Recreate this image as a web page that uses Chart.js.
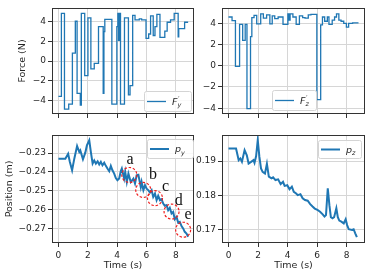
<!DOCTYPE html>
<html>
<head>
<meta charset="utf-8">
<script src="https://cdn.jsdelivr.net/npm/chart.js@4.4.1/dist/chart.umd.min.js"></script>
<style>
html, body { margin: 0; padding: 0; background: #fff; }
#wrap { position: relative; width: 373px; height: 276px; overflow: hidden; }
canvas { position: absolute; }
</style>
</head>
<body>
<div id="wrap">
  <canvas id="fyChart" width="200" height="125" style="left:0;top:0;width:200px;height:125px"></canvas>
  <canvas id="fzChart" width="185" height="125" style="left:188px;top:0;width:185px;height:125px"></canvas>
  <canvas id="pyChart" width="200" height="151" style="left:0;top:125px;width:200px;height:151px"></canvas>
  <canvas id="pzChart" width="185" height="151" style="left:188px;top:125px;width:185px;height:151px"></canvas>
</div>
<script>
// tick labels
const timeTicks = [0, 2, 4, 6, 8];
const forceTicks = [-4, -2, 0, 2, 4];
const pyTicks = [-0.27, -0.26, -0.25, -0.24, -0.23];
const pzTicks = [0.17, 0.18, 0.19];

// force y (step, value holds until next time)
const fyTime = [0, 0.2, 0.41, 0.7, 0.95, 1.15, 1.27, 1.49, 1.56, 1.79, 2.01, 2.21, 2.44, 2.73, 3.05, 3.1, 3.16, 3.64,
    3.98, 4.05, 4.1, 4.15, 4.23, 4.5, 4.77, 4.88, 5.06, 5.22, 5.51, 5.67, 5.97, 6.15, 6.28, 6.46, 6.58, 6.71, 6.92,
    7.25, 7.41, 7.64, 7.89, 8.16, 8.2, 8.6, 8.84];
const fyForce = [-3.6, 4.85, -4.9, -4.4, 0.8, 4.05, -3.3, -4.5, 4.85, -1.5, 4.4, -0.8, -0.25, 3.5, -3.3, 3.0, 4.25, -4.4,
    3.5, 4.85, 2.1, 4.85, -4.4, 4.4, -3.45, -2.5, 4.65, 4.2, 4.3, 4.2, 2.3, 2.75, 4.6, 2.6, 3.5, 4.75, 2.4,
    3.05, 3.95, 4.2, 4.85, 2.45, 3.3, 3.95, 3.95];

// force z
const fzTime = [0, 0.24, 0.47, 0.75, 0.96, 1.13, 1.25, 1.49, 1.58, 1.73, 1.91, 2.18, 2.36, 2.58, 2.8, 2.96, 3.13, 3.36,
    3.69, 4.02, 4.1, 4.17, 4.36, 4.58, 4.8, 5.02, 5.18, 5.4, 5.58, 5.98, 6.24, 6.36, 6.51, 6.69, 6.8, 7.02, 7.18,
    7.31, 7.47, 7.62, 7.8, 7.98, 8.13, 8.4, 8.8];
const fzForce = [4.6, 4.25, -0.05, 3.9, 2.4, 3.9, -4.05, 2.75, 4.55, 4.75, 3.95, 4.9, 4.5, 4.8, 3.95, 4.7, 4.45, 4.6,
    3.9, 4.9, 4.3, 4.9, 4.6, 3.9, 4.7, 4.55, 4.5, 4.8, 4.85, -3.2, 3.85, 4.6, 4.2, 4.6, 3.9, 4.3, 4.6,
    4.9, 4.3, 4.2, 4.0, 3.65, 4.0, 4.05, 4.05];

// position y
const pyTime = [0, 0.47, 0.66, 0.77, 0.93, 1.08, 1.27, 1.42, 1.49, 1.67, 1.83, 1.94, 2.1, 2.21, 2.33, 2.44, 2.55, 2.67,
    2.78, 2.89, 3.0, 3.12, 3.23, 3.34, 3.46, 3.57, 3.68, 3.8, 3.91, 4.02, 4.14, 4.25, 4.32, 4.48, 4.55, 4.66, 4.77,
    4.93, 5.11, 5.22, 5.33, 5.45, 5.61, 5.67, 5.79, 5.9, 6.01, 6.12, 6.24, 6.35, 6.46, 6.58, 6.69, 6.8, 6.92,
    7.03, 7.14, 7.25, 7.37, 7.48, 7.59, 7.71, 7.82, 7.93, 8.05, 8.16, 8.27, 8.39, 8.5, 8.61, 8.73, 8.84];
const pyPos = [-0.2330, -0.2330, -0.2304, -0.2345, -0.2391, -0.2330, -0.2263, -0.2295, -0.2286, -0.2333, -0.2298,
    -0.2260, -0.2233, -0.2295, -0.2356, -0.2339, -0.2356, -0.2344, -0.2361, -0.2347, -0.2365, -0.2351, -0.2368,
    -0.2382, -0.2396, -0.2368, -0.2391, -0.2409, -0.2432, -0.2444, -0.2435, -0.2395, -0.2382, -0.2435, -0.2400,
    -0.2453, -0.2409, -0.2453, -0.2435, -0.2461, -0.2418, -0.2415, -0.2479, -0.2453, -0.2496, -0.2470, -0.2488,
    -0.2496, -0.2509, -0.2496, -0.2532, -0.2514, -0.2549, -0.2526, -0.2549, -0.2544, -0.2567, -0.2579, -0.2575,
    -0.2602, -0.2589, -0.2619, -0.2611, -0.2649, -0.2637, -0.2667, -0.2663, -0.2686, -0.2698, -0.2716, -0.2725,
    -0.2742];

// position z
const pzTime = [0, 0.51, 0.69, 0.8, 0.91, 1.09, 1.24, 1.36, 1.53, 1.69, 1.76, 1.87, 1.98, 2.09, 2.2, 2.31, 2.47, 2.6,
    2.73, 2.91, 3.02, 3.18, 3.36, 3.53, 3.69, 3.8, 3.98, 4.13, 4.29, 4.42, 4.58, 4.69, 4.87, 5.02, 5.18, 5.36, 5.53,
    5.69, 5.84, 6.02, 6.2, 6.36, 6.5, 6.6, 6.72, 6.83, 6.93, 7.04, 7.15, 7.3, 7.4, 7.5, 7.64, 7.8, 7.93, 8.03,
    8.14, 8.36, 8.47, 8.58, 8.69];
const pzPos = [0.1937, 0.1937, 0.1903, 0.1908, 0.1898, 0.1932, 0.1917, 0.1893, 0.1898, 0.1903, 0.1895, 0.1915,
    0.1961, 0.1913, 0.1879, 0.1869, 0.1864, 0.1892, 0.1855, 0.1850, 0.1853, 0.1845, 0.1847, 0.1833, 0.1840,
    0.1828, 0.1830, 0.1818, 0.1826, 0.1811, 0.1806, 0.1801, 0.1804, 0.1792, 0.1787, 0.1785, 0.1775, 0.1768,
    0.1762, 0.1758, 0.1753, 0.1746, 0.1739, 0.1743, 0.1821, 0.1772, 0.1737, 0.1734, 0.1737, 0.1763, 0.1737,
    0.1727, 0.1724, 0.1719, 0.1731, 0.1714, 0.1702, 0.1700, 0.1702, 0.1690, 0.1679];

// annotated events on p_y
const eventLabels = ['a', 'b', 'c', 'd', 'e'];
const eventTime = [4.83, 5.78, 6.58, 7.71, 8.5];
const eventPos = [-0.2416, -0.2495, -0.2538, -0.2609, -0.2705];
const eventLabelTime = [4.88, 6.44, 7.3, 8.2, 8.83];
const eventLabelPos = [-0.2337, -0.2416, -0.2477, -0.2551, -0.2626];

const LINE_BLUE = '#1f77b4';
const TEXT_COLOR = '#262626';
const FONT = 'DejaVu Sans';

function toPoints(xs, ys) {
    return xs.map((x, i) => ({ x: x, y: ys[i] }));
}

function minusSign(str) {
    return str.replace('-', '\u2212');
}

// box around the plot area, like matplotlib spines
const framePlugin = {
    id: 'panelFrame',
    afterDatasetsDraw(chart) {
        const a = chart.chartArea;
        const ctx = chart.ctx;
        ctx.save();
        ctx.strokeStyle = '#333';
        ctx.lineWidth = 1;
        ctx.strokeRect(Math.round(a.left) + 0.5, Math.round(a.top) + 0.5,
            Math.round(a.right - a.left) - 1, Math.round(a.bottom - a.top) - 1);
        ctx.restore();
    }
};

// legend with sub/superscript labels
const mathLegendPlugin = {
    id: 'mathLegend',
    afterDraw(chart, args, opts) {
        if (!opts || !opts.box) return;
        const a = chart.chartArea;
        const ctx = chart.ctx;
        const b = opts.box;
        const x = a.left + b[0], y = a.top + b[1], w = b[2], h = b[3];
        ctx.save();
        ctx.fillStyle = 'rgba(255,255,255,0.85)';
        ctx.strokeStyle = '#d4d4d4';
        ctx.lineWidth = 1;
        ctx.beginPath();
        ctx.roundRect(x + 0.5, y + 0.5, w, h, 2);
        ctx.fill();
        ctx.stroke();

        const cy = y + h / 2 + 0.5;
        ctx.strokeStyle = LINE_BLUE;
        ctx.lineWidth = opts.lineWidth;
        ctx.beginPath();
        ctx.moveTo(x + 3, cy);
        ctx.lineTo(x + 22, cy);
        ctx.stroke();

        ctx.fillStyle = TEXT_COLOR;
        ctx.textBaseline = 'alphabetic';
        let tx = x + 28;
        const base = cy + 3;
        ctx.font = 'italic 9.5px ' + FONT;
        ctx.fillText(opts.symbol, tx, base);
        tx += ctx.measureText(opts.symbol).width;
        ctx.font = 'italic 6.5px ' + FONT;
        if (opts.sup) {
            ctx.fillText(opts.sup, tx + 0.5, base - 4);
        }
        ctx.fillText(opts.sub, tx, base + 2.5);
        ctx.restore();
    }
};

// dashed red circles with letters
const eventPlugin = {
    id: 'events',
    afterDatasetsDraw(chart, args, opts) {
        if (!opts || !opts.show) return;
        const xs = chart.scales.x, ys = chart.scales.y;
        const ctx = chart.ctx;
        ctx.save();
        eventLabels.forEach((lab, i) => {
            const cx = xs.getPixelForValue(eventTime[i]);
            const cy = ys.getPixelForValue(eventPos[i]);
            ctx.strokeStyle = '#f01e1e';
            ctx.lineWidth = 1.2;
            ctx.setLineDash([2.5, 1.8]);
            ctx.beginPath();
            ctx.arc(cx, cy, 7.5, 0, Math.PI * 2);
            ctx.stroke();
            ctx.setLineDash([]);
            ctx.fillStyle = '#111';
            ctx.font = '16px "Liberation Serif"';
            ctx.textAlign = 'center';
            ctx.textBaseline = 'middle';
            ctx.fillText(lab, xs.getPixelForValue(eventLabelTime[i]), ys.getPixelForValue(eventLabelPos[i]));
        });
        ctx.restore();
    }
};

function makePanel(id, cfg) {
    const ctx = document.getElementById(id).getContext('2d');
    return new Chart(ctx, {
        type: 'line',
        data: {
            datasets: [{
                data: cfg.points,
                borderColor: LINE_BLUE,
                borderWidth: cfg.lineWidth,
                stepped: cfg.stepped,
                pointRadius: 0,
                tension: 0,
                fill: false,
            }]
        },
        options: {
            responsive: false,
            animation: false,
            events: [],
            layout: { padding: cfg.padding },
            plugins: {
                legend: { display: false },
                tooltip: { enabled: false },
                mathLegend: cfg.legend,
                events: { show: !!cfg.events },
            },
            scales: {
                x: {
                    type: 'linear',
                    min: -0.44,
                    max: 9.24,
                    afterBuildTicks: function(scale) {
                        scale.ticks = timeTicks.map(v => ({ value: v }));
                    },
                    afterFit: function(scale) {
                        scale.height = cfg.xHeight;
                    },
                    border: { display: false },
                    grid: {
                        color: '#d6d6d6',
                        lineWidth: 1,
                        tickColor: '#333',
                        tickLength: 4,
                        tickWidth: 1,
                    },
                    ticks: {
                        autoSkip: false,
                        maxRotation: 0,
                        padding: 3,
                        color: TEXT_COLOR,
                        font: { family: FONT, size: 9 },
                        callback: function(value) {
                            return cfg.xLabels ? String(value) : '';
                        }
                    },
                    title: {
                        display: !!cfg.xLabels,
                        text: 'Time (s)',
                        color: TEXT_COLOR,
                        font: { family: FONT, size: 9.5 },
                        padding: { top: 0, bottom: 5 },
                    }
                },
                y: {
                    type: 'linear',
                    min: cfg.yMin,
                    max: cfg.yMax,
                    afterBuildTicks: function(scale) {
                        scale.ticks = cfg.yTicks.map(v => ({ value: v }));
                    },
                    afterFit: function(scale) {
                        scale.width = cfg.yWidth;
                    },
                    border: { display: false },
                    grid: {
                        color: '#d6d6d6',
                        lineWidth: 1,
                        tickColor: '#333',
                        tickLength: 4,
                        tickWidth: 1,
                    },
                    ticks: {
                        autoSkip: false,
                        padding: 2,
                        color: TEXT_COLOR,
                        font: { family: FONT, size: 9 },
                        callback: function(value) {
                            return minusSign(cfg.yDigits ? value.toFixed(cfg.yDigits) : String(value));
                        }
                    },
                    title: {
                        display: !!cfg.yTitle,
                        text: cfg.yTitle || '',
                        color: TEXT_COLOR,
                        font: { family: FONT, size: 9.5 },
                        padding: { top: cfg.yTitlePad || 0, bottom: 0 },
                    }
                }
            }
        },
        plugins: [framePlugin, eventPlugin, mathLegendPlugin]
    });
}

makePanel('fyChart', {
    points: toPoints(fyTime, fyForce), stepped: 'before', lineWidth: 1.3,
    padding: { left: 0, top: 8, right: 6, bottom: 0 }, xHeight: 11, yWidth: 52, xLabels: false,
    yMin: -5.4, yMax: 5.4, yTicks: forceTicks, yDigits: 0, yTitle: 'Force (N)', yTitlePad: 17,
    legend: { box: [92, 83, 47, 20], symbol: 'F', sup: '\u2032', sub: 'y', lineWidth: 1.3 },
});

makePanel('fzChart', {
    points: toPoints(fzTime, fzForce), stepped: 'before', lineWidth: 1.3,
    padding: { left: 0, top: 8, right: 8, bottom: 0 }, xHeight: 11, yWidth: 34, xLabels: false,
    yMin: -4.55, yMax: 5.45, yTicks: forceTicks, yDigits: 0,
    legend: { box: [50, 82, 44, 20], symbol: 'F', sup: '\u2032', sub: 'z', lineWidth: 1.3 },
});

makePanel('pyChart', {
    points: toPoints(pyTime, pyPos), stepped: false, lineWidth: 2,
    padding: { left: 0, top: 10, right: 6, bottom: 0 }, xHeight: 33, yWidth: 52, xLabels: true,
    yMin: -0.2775, yMax: -0.2205, yTicks: pyTicks, yDigits: 2, yTitle: 'Position (m)', yTitlePad: 4,
    legend: { box: [95, 4, 46, 19], symbol: 'p', sub: 'y', lineWidth: 2 },
    events: true,
});

makePanel('pzChart', {
    points: toPoints(pzTime, pzPos), stepped: false, lineWidth: 2,
    padding: { left: 0, top: 10, right: 8, bottom: 0 }, xHeight: 33, yWidth: 34, xLabels: true,
    yMin: 0.1662, yMax: 0.1976, yTicks: pzTicks, yDigits: 2,
    legend: { box: [96, 5, 43, 18], symbol: 'p', sub: 'z', lineWidth: 2 },
});
</script>
</body>
</html>
